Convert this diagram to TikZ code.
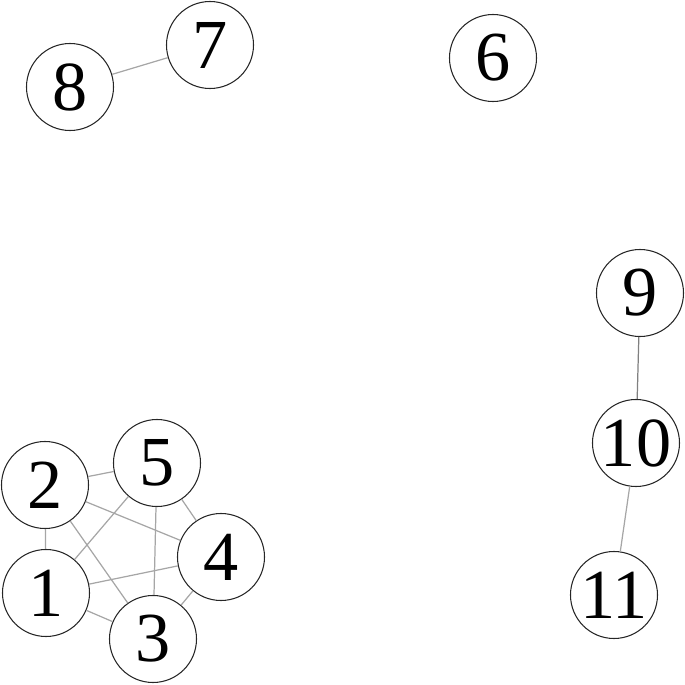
\documentclass[tikz,border=0pt]{standalone}
\usepackage{fontspec}
\setmainfont{Liberation Serif}
\usepackage{tikz}

\begin{document}
\begin{tikzpicture}[line width=0.6pt]
   \useasboundingbox (0,0) rectangle (13.7,13.7);
   \tikzstyle{main}=[circle, minimum size=17.4mm, inner sep=0pt, draw=black!85, fill=white, font=\fontsize{40}{40}\selectfont]
   \tikzstyle{link}=[draw=black!35, line width=0.7pt]
   \foreach \n/\x/\y in {1/0.92/1.84,2/0.90/4.00,3/3.06/0.92,4/4.42/2.56,5/3.14/4.44,
                         6/9.86/12.54,7/4.20/12.80,8/1.40/11.96,
                         9/12.80/7.84,10/12.72/4.84,11/12.28/1.80} {
       \node[main] (v\n) at (\x,\y) {\n};
   }
   \foreach \a/\b in {1/2,1/3,1/4,1/5,2/3,2/4,2/5,3/4,3/5,4/5,7/8,10/11} {
       \path[link] (v\a) edge (v\b);
   }
    \path[link, draw=black!50] (v9) edge (v10);
\end{tikzpicture}
\end{document}
